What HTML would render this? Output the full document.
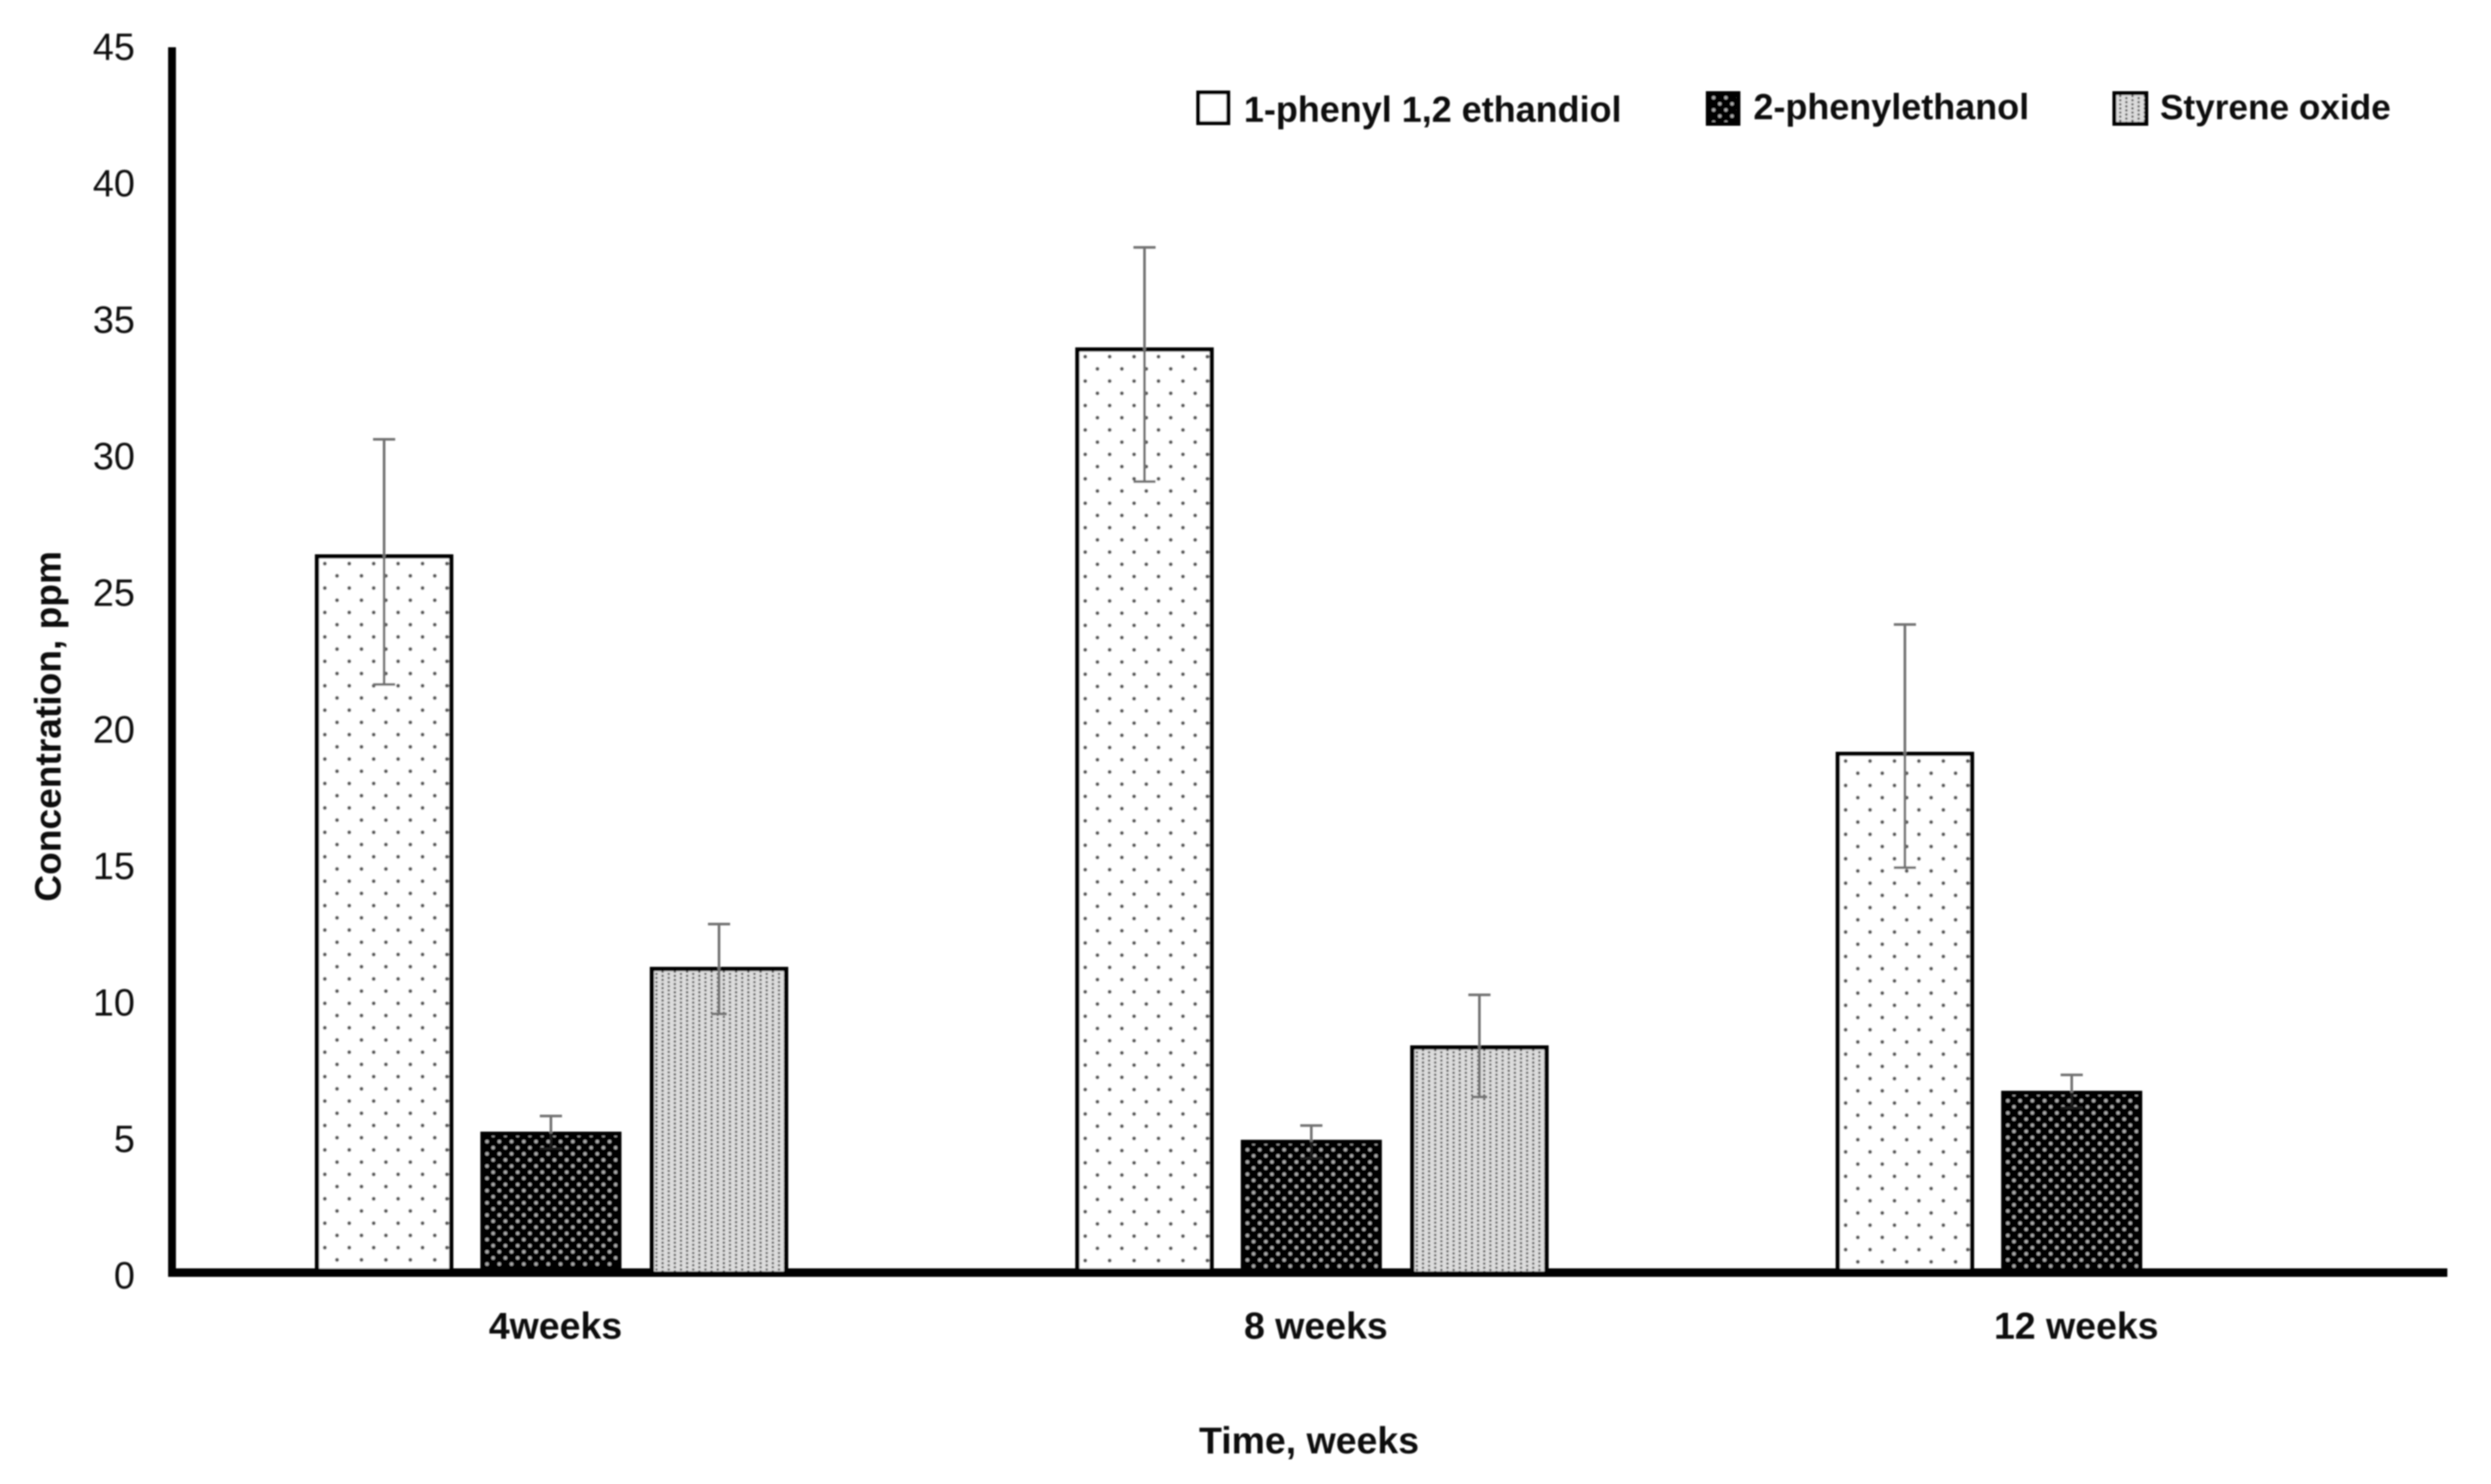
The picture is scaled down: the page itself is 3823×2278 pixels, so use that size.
<!DOCTYPE html>
<html lang="en">
<head>
<meta charset="utf-8">
<title>Concentration over time</title>
<style>
html,body{margin:0;padding:0;background:#fff;}
svg{display:block;}
text{font-family:"Liberation Sans",sans-serif;fill:#111;}
.bold{font-weight:700;}
</style>
</head>
<body>
<svg id="chart" xmlns="http://www.w3.org/2000/svg" width="3823" height="2278" viewBox="0 0 3823 2278">
  <defs id="defs">
    <filter id="soft" filterUnits="userSpaceOnUse" x="0" y="0" width="3823" height="2278">
      <feGaussianBlur stdDeviation="1.1"/>
    </filter>
    <pattern id="leg-b" patternUnits="userSpaceOnUse" x="2626" y="146" width="18.8" height="18.8">
      <rect width="18.8" height="18.8" fill="#000"/>
      <circle cx="4" cy="4" r="2.8" fill="#aaa"/><circle cx="13.4" cy="13.4" r="2.8" fill="#aaa"/>
    </pattern>
    <pattern id="leg-c" patternUnits="userSpaceOnUse" x="3250" y="146" width="18.8" height="12.6">
      <rect width="18.8" height="12.6" fill="#dcdcdc"/>
      <circle cx="4" cy="1.5" r="1.9" fill="#666"/><circle cx="4" cy="7.8" r="1.9" fill="#666"/>
      <circle cx="13.4" cy="4.6" r="1.9" fill="#666"/><circle cx="13.4" cy="10.9" r="1.9" fill="#666"/>
    </pattern>
  </defs>
  <rect width="3823" height="2278" fill="#fff"/>
  <g id="root" filter="url(#soft)">
    <g id="bars"></g>
    <g id="axes"></g>
    <g id="bars-top"></g>
    <g id="errors"></g>
    <g id="y-ticks"></g>
    <g id="x-ticks"></g>

    <text class="bold" font-size="57" text-anchor="middle" transform="translate(93 1115) rotate(-90)">Concentration, ppm</text>
    <text class="bold" font-size="57.5" text-anchor="middle" x="2009" y="2231">Time, weeks</text>

    <g>
      <g>
        <rect x="1839" y="142" width="46" height="47" fill="#fff" stroke="#000" stroke-width="6"/>
        <text class="bold" font-size="55.2" x="1909" y="187">1-phenyl 1,2 ethandiol</text>
      </g>
      <g>
        <rect x="2621" y="143" width="47" height="47" fill="url(#leg-b)" stroke="#000" stroke-width="6"/>
        <text class="bold" font-size="55.2" x="2691" y="183">2-phenylethanol</text>
      </g>
      <g>
        <rect x="3245" y="143" width="49" height="47" fill="url(#leg-c)" stroke="#000" stroke-width="6"/>
        <text class="bold" font-size="54" x="3315" y="183">Styrene oxide</text>
      </g>
    </g>
  </g>
</svg>
<script>
// ---- chart data ----
const categories = ['4weeks', '8 weeks', '12 weeks'];
const seriesNames = ['1-phenyl 1,2 ethandiol', '2-phenylethanol', 'Styrene oxide'];
const phenylEthandiol = [26.3, 33.9, 19.05];
const phenylEthanol = [5.1, 4.8, 6.6];
const styreneOxide = [11.15, 8.27, null];
const phenylEthandiolErrHigh = [30.6, 37.65, 23.8];
const phenylEthandiolErrLow = [21.6, 29.05, 14.87];
const phenylEthanolErrHigh = [5.75, 5.4, 7.26];
const phenylEthanolErrLow = [4.55, 4.2, 6.05];
const styreneOxideErrHigh = [12.8, 10.2, null];
const styreneOxideErrLow = [9.5, 6.45, null];
const yTickLabels = [0, 5, 10, 15, 20, 25, 30, 35, 40, 45];

// ---- axis functions ----
const NS = 'http://www.w3.org/2000/svg';
const Y0 = 1953.5, UNIT = 41.8;
const yScale = function (v) { return Y0 - v * UNIT; };
const groupX = function (i) { return 589.5 + i * 1167; };
const SERIES_OFFSET = [0, 256, 514];
const SERIES_WIDTH = [212, 216, 212];
const barCenter = function (g, s) { return groupX(g) + SERIES_OFFSET[s]; };

const seriesValues = [phenylEthandiol, phenylEthanol, styreneOxide];
const seriesHigh = [phenylEthandiolErrHigh, phenylEthanolErrHigh, styreneOxideErrHigh];
const seriesLow = [phenylEthandiolErrLow, phenylEthanolErrLow, styreneOxideErrLow];
const seriesSlug = ['1-phenyl-1-2-ethandiol', '2-phenylethanol', 'styrene-oxide'];

function mk(tag, attrs, parent) {
  const el = document.createElementNS(NS, tag);
  for (const k in attrs) el.setAttribute(k, attrs[k]);
  if (parent) parent.appendChild(el);
  return el;
}

const defs = document.getElementById('defs');
function makePattern(id, s, left, top) {
  let p;
  if (s === 0) {
    p = mk('pattern', {id: id, patternUnits: 'userSpaceOnUse', x: left + 12, y: top + 8, width: 37.5, height: 37.5}, defs);
    mk('rect', {width: 37.5, height: 37.5, fill: '#fff'}, p);
    for (const c of [[3, 3], [21.75, 21.75]]) mk('circle', {cx: c[0], cy: c[1], r: 3, fill: '#5a5a5a'}, p);
  } else if (s === 1) {
    p = mk('pattern', {id: id, patternUnits: 'userSpaceOnUse', x: left + 6, y: top + 6, width: 18.8, height: 18.8}, defs);
    mk('rect', {width: 18.8, height: 18.8, fill: '#000'}, p);
    for (const c of [[4, 6], [13.4, 15.4]]) mk('circle', {cx: c[0], cy: c[1], r: 2.8, fill: '#aaa'}, p);
  } else {
    p = mk('pattern', {id: id, patternUnits: 'userSpaceOnUse', x: left + 6, y: top + 6, width: 18.8, height: 12.6}, defs);
    mk('rect', {width: 18.8, height: 12.6, fill: '#dcdcdc'}, p);
    for (const c of [[4, 1.5], [4, 7.8], [13.4, 4.6], [13.4, 10.9]]) mk('circle', {cx: c[0], cy: c[1], r: 1.9, fill: '#666'}, p);
  }
}

function drawBar(g, s, parent) {
  const v = seriesValues[s][g];
  if (v === null) return;
  const w = SERIES_WIDTH[s];
  const cx = barCenter(g, s);
  const left = cx - w / 2;
  const top = yScale(v);
  const bottom = s === 2 ? Y0 - 2 : Y0;
  const pid = 'fill-' + s + '-' + g;
  makePattern(pid, s, left, top);
  const group = mk('g', {}, parent);
  
  
  mk('rect', {x: left + 3, y: top, width: w - 6, height: bottom - top, fill: 'url(#' + pid + ')'}, group);
  mk('path', {d: 'M' + (left + 3) + ' ' + bottom + 'V' + top + 'H' + (left + w - 3) + 'V' + bottom,
    fill: 'none', stroke: '#000', 'stroke-width': 6.5}, group);
}

const barsGroup = document.getElementById('bars');
const barsTop = document.getElementById('bars-top');
categories.forEach(function (c, g) {
  drawBar(g, 0, barsGroup);
  drawBar(g, 1, barsGroup);
  drawBar(g, 2, barsTop);
});

// axes
const axes = document.getElementById('axes');
const yAxis = mk('line', {x1: 264, x2: 264, y1: yScale(45), y2: Y0 + 6.5, stroke: '#000', 'stroke-width': 12}, axes);


const xAxis = mk('line', {x1: 258, x2: 3756, y1: Y0, y2: Y0, stroke: '#000', 'stroke-width': 13}, axes);



// error bars
const errors = document.getElementById('errors');
categories.forEach(function (c, g) {
  seriesValues.forEach(function (vals, s) {
    const hi = seriesHigh[s][g], lo = seriesLow[s][g];
    if (hi === null || vals[g] === null) return;
    const x = barCenter(g, s);
    const eb = mk('g', {stroke: '#727272', 'stroke-width': 4, fill: 'none'}, errors);
    
    
    mk('line', {x1: x, x2: x, y1: yScale(hi), y2: yScale(vals[g])}, eb);
    mk('line', {x1: x - 17, x2: x + 17, y1: yScale(hi), y2: yScale(hi)}, eb);
    // the lower arm sits inside the bar: it disappears into the near-black fill
    const lowColor = s === 1 ? '#1a1a1a' : '#727272';
    const lowHalf = s === 2 ? 12 : 17;
    mk('line', {x1: x, x2: x, y1: yScale(vals[g]), y2: yScale(lo), stroke: lowColor}, eb);
    mk('line', {x1: x - lowHalf, x2: x + lowHalf, y1: yScale(lo), y2: yScale(lo), stroke: lowColor}, eb);
  });
});

// y tick labels
const yTicks = document.getElementById('y-ticks');
yTickLabels.forEach(function (t) {
  const el = mk('text', {x: 207, y: yScale(t) + 19.5 + (45 - t) * 0.11, 'text-anchor': 'end', 'font-size': 58, fill: '#222'}, yTicks);
  el.textContent = String(t);
  
  
});

// x tick labels
const xTicks = document.getElementById('x-ticks');
categories.forEach(function (c, g) {
  const el = mk('text', {x: groupX(g) + 263, y: 2055, 'text-anchor': 'middle', 'font-size': 57.5, 'font-weight': 700}, xTicks);
  el.textContent = c;
  
  
});
</script>
</body>
</html>
